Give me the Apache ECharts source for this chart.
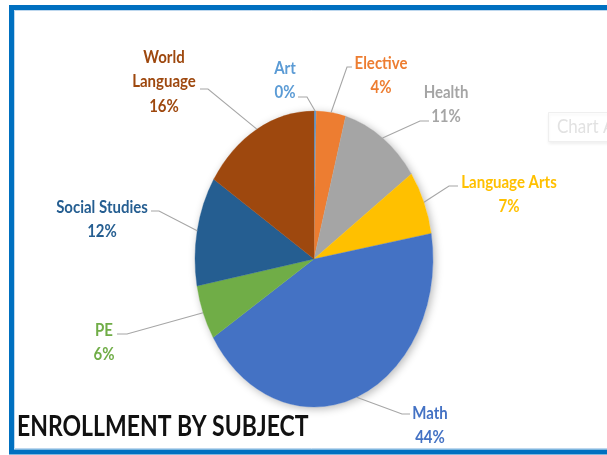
<!DOCTYPE html>
<html>
<head>
<meta charset="utf-8">
<script src="https://cdn.jsdelivr.net/npm/echarts@6/dist/echarts.min.js"></script>
<style>
  html, body { margin: 0; padding: 0; background: #fff; }
  #chart { width: 607px; height: 455px; }
</style>
</head>
<body>
<div id="chart"></div>
<script>
// Enrollment share per subject, clockwise from 12 o'clock
const subjects = ['Art', 'Elective', 'Health', 'Language Arts', 'Math', 'PE', 'Social Studies', 'World Language'];
const enrollmentShare = [0.3, 4, 11, 7, 44, 6, 12, 16];
const sliceColors = ['#5B9BD5', '#ED7D31', '#A5A5A5', '#FFC000', '#4472C4', '#70AD47', '#255E91', '#9E480E'];
const chartTitle = 'ENROLLMENT BY SUBJECT';

// Pie geometry (an upright ellipse)
const CX = 314, CY = 259, RX = 119, RY = 148;
const STRETCH = RY / RX;
const TEXT_STRETCH = 1.15;
const LINE_GAP = 24.5;
const LABEL_FONT = 'bold 15px Lato, "Open Sans", sans-serif';

// Where each data label sits (centre of its first line) and where its leader line leaves it
const labelPlacement = [
  { at: [285, 68],  from: [298, 97],  elbow: [307, 97] },
  { at: [381, 63],  from: [352, 67],  elbow: [347, 67] },
  { at: [446, 92],  from: [429, 121], elbow: [420, 121] },
  { at: [509, 182], from: [458, 186], elbow: [449, 186] },
  { at: [430, 413], from: [410, 414], elbow: [402, 414] },
  { at: [104, 330], from: [117, 334], elbow: [127, 334] },
  { at: [102, 207], from: [151, 211], elbow: [159, 211] },
  { at: [164, 57],  from: [200, 89],  elbow: [208, 89] }
];
const wrapName = [false, false, false, false, false, false, false, true];

const total = enrollmentShare.reduce((a, b) => a + b, 0);
const startFrac = [];
enrollmentShare.reduce((acc, v, i) => { startFrac[i] = acc; return acc + v / total; }, 0);

function renderSlice(params, api) {
  const i = params.dataIndex;
  const v = api.value(0);
  const f0 = startFrac[i];
  const f1 = f0 + v / total;
  const a0 = -Math.PI / 2 + f0 * 2 * Math.PI;
  const a1 = -Math.PI / 2 + f1 * 2 * Math.PI;
  const mid = (a0 + a1) / 2;
  const edge = [CX + RX * Math.cos(mid), CY + RY * Math.sin(mid)];
  const place = labelPlacement[i];
  const nameLines = wrapName[i] ? subjects[i].split(' ') : [subjects[i]];
  const lines = nameLines.concat([Math.round(v / total * 100) + '%']);
  const color = sliceColors[i];
  return {
    type: 'group',
    children: [
      {
        type: 'sector',
        shape: { cx: CX, cy: CY, r: RX, r0: 0, startAngle: a0, endAngle: a1, clockwise: true },
        originX: CX, originY: CY, scaleY: STRETCH,
        style: { fill: color, stroke: color, lineWidth: 0.3 }
      },
      {
        type: 'polyline',
        shape: { points: [place.from, place.elbow, edge] },
        style: { stroke: '#A6A6A6', lineWidth: 1.1, fill: null }
      },
      {
        type: 'text',
        x: place.at[0],
        y: place.at[1] + (lines.length - 1) * LINE_GAP / 2,
        scaleY: TEXT_STRETCH,
        style: {
          text: lines.join('\n'),
          font: LABEL_FONT,
          fill: color,
          align: 'center',
          verticalAlign: 'middle',
          lineHeight: LINE_GAP / TEXT_STRETCH
        }
      }
    ]
  };
}

const chart = echarts.init(document.getElementById('chart'), null, { renderer: 'canvas' });
chart.setOption({
  animation: false,
  backgroundColor: '#fff',
  graphic: [
    // soft drop shadow under the pie
    {
      type: 'ellipse', z: 0,
      shape: { cx: CX, cy: CY, rx: RX, ry: RY },
      style: { fill: '#fff', shadowBlur: 8, shadowColor: 'rgba(0,0,0,0.28)', shadowOffsetX: 2, shadowOffsetY: 2 }
    },
    // faint "Chart A" caption box at the right edge
    {
      type: 'rect', z: 0,
      shape: { x: 548.5, y: 112.5, width: 80, height: 29 },
      style: { fill: '#fff', stroke: '#EFEFEF', lineWidth: 1, shadowBlur: 3, shadowColor: 'rgba(0,0,0,0.06)', shadowOffsetY: 2 }
    },
    {
      type: 'text', z: 1, x: 557, y: 127, scaleY: TEXT_STRETCH,
      style: { text: 'Chart A', font: '17px Lato, sans-serif', fill: '#E2E2E2', verticalAlign: 'middle' }
    },
    // title
    {
      type: 'text', z: 10, x: 17, y: 427, scaleY: 1.2,
      style: { text: chartTitle, font: 'bold 23px Lato, sans-serif', fill: '#111', verticalAlign: 'middle' }
    },
    // frame
    {
      type: 'rect', z: 20,
      shape: { x: 14.5, y: 10.5, width: 620, height: 438 },
      style: { fill: 'transparent', stroke: '#BDD7EE', lineWidth: 1 }
    },
    {
      type: 'rect', z: 21,
      shape: { x: 11.5, y: 7.5, width: 620, height: 444.5 },
      style: { fill: 'transparent', stroke: '#0070C0', lineWidth: 5 }
    }
  ],
  series: [{
    type: 'custom',
    coordinateSystem: 'none',
    z: 5,
    data: enrollmentShare,
    renderItem: renderSlice
  }]
});
</script>
</body>
</html>
